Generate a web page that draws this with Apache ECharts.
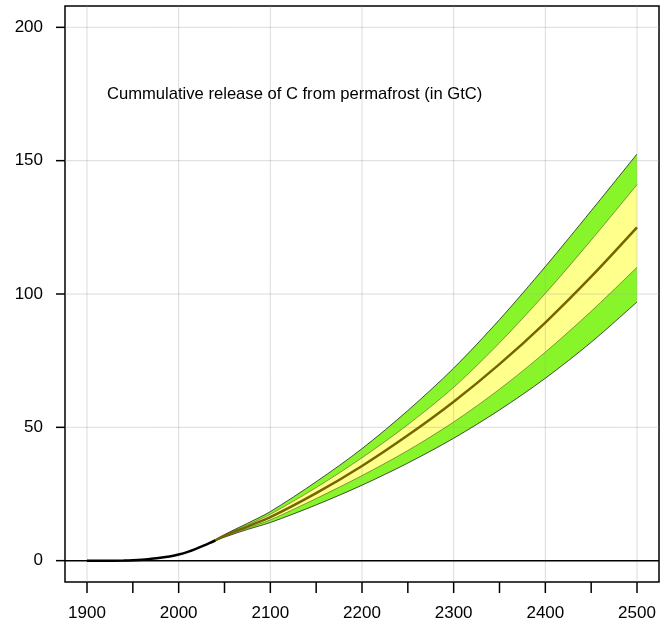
<!DOCTYPE html>
<html>
<head>
<meta charset="utf-8">
<script src="https://cdn.jsdelivr.net/npm/echarts@6/dist/echarts.min.js"></script>
<style>html,body{margin:0;padding:0;background:#fff}#c{width:672px;height:627px}</style>
</head>
<body>
<div id="c"></div>
<script>
// ---- data ----
var histYears = [1900, 1920, 1940, 1950, 1960, 1970, 1980, 1990, 2000, 2010, 2020, 2030, 2040];
var histValues = [0, 0, 0.05, 0.15, 0.35, 0.7, 1.1, 1.6, 2.3, 3.3, 4.6, 6.0, 7.6];
var projYears  = [2035, 2050, 2075, 2100, 2150, 2200, 2250, 2300, 2350, 2400, 2450, 2500];
var median     = [6.8, 9.3, 12.8, 16.3, 25.3, 35.5, 47.0, 59.6, 73.7, 89.3, 106.5, 125.0];
var outerTop   = [6.8, 9.8, 14.0, 18.4, 29.6, 42.0, 56.3, 72.2, 90.4, 110.3, 131.2, 152.5];
var innerTop   = [6.8, 9.6, 13.4, 17.4, 27.4, 38.6, 51.0, 65.0, 81.7, 100.2, 120.2, 141.0];
var innerBottom= [6.8, 9.0, 12.2, 15.3, 23.3, 31.9, 41.3, 52.0, 64.3, 78.2, 93.5, 110.0];
var outerBottom= [6.8, 8.8, 11.7, 14.3, 20.9, 28.3, 36.6, 45.9, 56.5, 68.4, 81.9, 97.0];
var xTickYears = [1900, 1950, 2000, 2050, 2100, 2150, 2200, 2250, 2300, 2350, 2400, 2450, 2500];
var xGridYears = [1900, 2000, 2100, 2200, 2300, 2400, 2500];
var yTickValues = [0, 50, 100, 150, 200];
var titleText = 'Cummulative release of C from permafrost (in GtC)';

var X_MIN = 1876, X_MAX = 2524, Y_MIN = -8, Y_MAX = 208;

function pairs(xs, ys) { return xs.map(function (x, i) { return [x, ys[i]]; }); }

var SM = 0.3;
var FONT = 'Liberation Sans, Arial, sans-serif';
var GRIDC = 'rgba(170,170,170,0.42)';

function vLineItem(params, api) {
  var x = api.value(0);
  var p1 = api.coord([x, Y_MIN]), p2 = api.coord([x, Y_MAX]);
  return {type: 'line', shape: {x1: p1[0], y1: p1[1], x2: p2[0], y2: p2[1]},
    style: {stroke: GRIDC, lineWidth: 1}};
}
function hLineItem(params, api) {
  var y = api.value(0);
  var p1 = api.coord([X_MIN, y]), p2 = api.coord([X_MAX, y]);
  return {type: 'line', shape: {x1: p1[0], y1: p1[1], x2: p2[0], y2: p2[1]},
    style: {stroke: GRIDC, lineWidth: 1}};
}
function xTickItem(params, api) {
  var p = api.coord([api.value(0), Y_MIN]);
  return {type: 'line', shape: {x1: p[0], y1: p[1], x2: p[0], y2: p[1] + 11},
    style: {stroke: '#000', lineWidth: 1.5}};
}
function yTickItem(params, api) {
  var p = api.coord([X_MIN, api.value(0)]);
  return {type: 'line', shape: {x1: p[0] - 9, y1: p[1], x2: p[0], y2: p[1]},
    style: {stroke: '#000', lineWidth: 1.5}};
}

var GREEN = '#87f52a', YELLOW = '#ffff8c';
var AREA_BASE = outerBottom[0];

function areaSeries(vals, color, z, origin) {
  return {type: 'line', data: pairs(projYears, vals), smooth: SM, symbol: 'none',
    lineStyle: {width: 0, opacity: 0}, areaStyle: {color: color, opacity: 1, origin: origin}, z: z, silent: true};
}
function edgeSeries(vals, w, c) {
  return {type: 'line', data: pairs(projYears, vals), smooth: SM, symbol: 'none',
    lineStyle: {color: c, width: w}, z: 7, silent: true};
}

var option = {
  animation: false,
  backgroundColor: '#fff',
  title: {text: titleText, left: 102, top: 81,
    textStyle: {fontFamily: FONT, fontSize: 16.6, fontWeight: 'normal', color: '#000'}},
  grid: {left: 65, right: 13, top: 6, bottom: 45, show: true, borderColor: '#000', borderWidth: 1.5, backgroundColor: 'transparent', containLabel: false},
  xAxis: {type: 'value', min: X_MIN, max: X_MAX, interval: 4,
    axisLine: {show: false}, axisTick: {show: false}, splitLine: {show: false},
    axisLabel: {margin: 23, fontFamily: FONT, fontSize: 17, color: '#000',
      formatter: function (v) { var r = Math.round(v); return (Math.abs(v - r) < 1e-6 && xGridYears.indexOf(r) >= 0) ? String(r) : ''; }}},
  yAxis: {type: 'value', min: Y_MIN, max: Y_MAX, interval: 2,
    axisLine: {show: false}, axisTick: {show: false}, splitLine: {show: false},
    axisLabel: {margin: 22, fontFamily: FONT, fontSize: 17, color: '#000',
      formatter: function (v) { var r = Math.round(v); return yTickValues.indexOf(r) >= 0 && Math.abs(v - r) < 1e-6 ? String(r) : ''; }}},
  series: [
    areaSeries(outerTop, GREEN, 2, AREA_BASE),
    areaSeries(innerTop, YELLOW, 3, AREA_BASE),
    areaSeries(innerBottom, GREEN, 4, AREA_BASE),
    areaSeries(outerBottom, '#ffffff', 5, 'auto'),
    {type: 'custom', renderItem: vLineItem, data: xGridYears.map(function (v) { return [v]; }), z: 6, silent: true, clip: false},
    {type: 'custom', renderItem: hLineItem, data: yTickValues.map(function (v) { return [v]; }), z: 6, silent: true, clip: false, encode: {y: 0}},
    {type: 'custom', renderItem: xTickItem, data: xTickYears.map(function (v) { return [v]; }), z: 9, silent: true, clip: false},
    {type: 'custom', renderItem: yTickItem, data: yTickValues.map(function (v) { return [v]; }), z: 9, silent: true, clip: false, encode: {y: 0}},
    edgeSeries(outerBottom, 0.8, '#222'),
    edgeSeries(innerBottom, 0.6, '#4a5a20'),
    edgeSeries(innerTop, 0.6, '#4a5a20'),
    edgeSeries(outerTop, 0.8, '#222'),
    // median
    {type: 'line', data: pairs(projYears, median), smooth: SM, symbol: 'none', lineStyle: {color: '#756500', width: 2.5}, z: 8, silent: true},
    // zero line
    {type: 'line', data: [[X_MIN, 0], [X_MAX, 0]], symbol: 'none', lineStyle: {color: '#000', width: 1.5}, z: 8, silent: true},
    // historical
    {type: 'line', data: pairs(histYears, histValues), smooth: SM, symbol: 'none', lineStyle: {color: '#000', width: 2.5}, z: 9, silent: true}
  ]
};
echarts.init(document.getElementById('c')).setOption(option);
</script>
</body>
</html>
